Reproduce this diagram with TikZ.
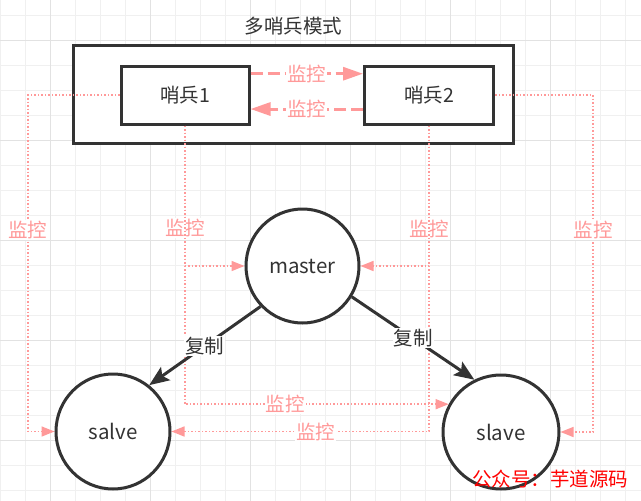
\documentclass[tikz,border=0pt]{standalone}
\usepackage{fontspec}
\setmainfont{Noto Sans CJK SC}
\usetikzlibrary{arrows.meta,shapes.geometric}
\definecolor{dk}{HTML}{333333}
\definecolor{pk}{HTML}{FF9999}
\definecolor{gmin}{HTML}{F0F0F0}
\definecolor{gmaj}{HTML}{E2E2E2}
\tikzset{
  txt/.style={font=\fontsize{19.5}{19.5}\selectfont},
  boxs/.style={draw=dk, line width=3pt, fill=white, rectangle, inner sep=0pt, txt, text=dk},
  circ/.style={draw=dk, line width=3pt, fill=white, ellipse, inner sep=0pt, font=\fontsize{20.5}{20.5}\selectfont, text=dk},
  mon/.style={draw=pk, line width=1.5pt, dash pattern=on 1.5pt off 2pt, -{Triangle[length=13pt,width=10pt]}},
  montwo/.style={draw=pk, line width=3pt, dash pattern=on 12pt off 5pt, -{Triangle[length=20pt,width=13pt]}},
  lbl/.style={fill=white, text=pk, inner sep=1pt, txt},
  cp/.style={draw=dk, line width=3pt, -{Stealth[length=20pt,width=16pt,inset=4pt]}},
  cpl/.style={fill=white, text=dk, inner sep=1pt, txt},
  gridminor/.style={draw=gmin, line width=1pt},
  gridmajor/.style={draw=gmaj, line width=1pt},
}
\begin{document}
\begin{tikzpicture}[x=1pt,y=-1pt]
\useasboundingbox (0,0) rectangle (641,501);
\fill[white] (0,0) rectangle (641,501);
% background grid
\foreach \gx in {0,25,...,625} \draw[gridminor] (\gx,0) -- (\gx,501);
\foreach \gy in {15,40,...,490} \draw[gridminor] (0,\gy) -- (641,\gy);
\foreach \gx in {50,150,...,550} \draw[gridmajor] (\gx,0) -- (\gx,501);
\foreach \gy in {40,140,...,440} \draw[gridmajor] (0,\gy) -- (641,\gy);

% nodes
\node[txt, text=dk] (title) at (293.5,26) {多哨兵模式};
\node[boxs, minimum width=440pt, minimum height=98pt] (outer) at (293,94) {};
\node[boxs, minimum width=128pt, minimum height=58pt] (s1) at (185,95) {哨兵1};
\node[boxs, minimum width=129pt, minimum height=58pt] (s2) at (429,95) {哨兵2};
\node[circ, minimum width=113pt, minimum height=114pt] (master) at (302.5,266) {master};
\node[circ, minimum width=114pt, minimum height=115pt] (salve) at (113,431.5) {salve};
\node[circ, minimum width=116pt, minimum height=114pt] (slave) at (501,432) {slave};
\coordinate (lx) at (28,0);
\coordinate (rx) at (593,0);

% dotted monitoring edges
\draw[mon] (s1.west) -| node[lbl,pos=0.70]{监控} (lx |- salve.west) -- (salve.west);
\draw[mon] (s1.south) |- node[lbl,pos=0.366]{监控} (master.west);
\draw[mon] (s1.south) |- node[lbl,pos=0.69]{监控} (slave.152);
\draw[mon] (s2.south) |- node[lbl,pos=0.37]{监控} (master.east);
\draw[mon] (s2.south) |- node[lbl,pos=0.72]{监控} (salve.east);
\draw[mon] (s2.east) -| node[lbl,pos=0.70]{监控} (rx |- slave.east) -- (slave.east);

% dashed sentinel-to-sentinel edges
\draw[montwo] (s1.18) -- node[lbl]{监控} (s1.18 -| s2.west);
\draw[montwo] (s2.192) -- node[lbl]{监控} (s2.192 -| s1.east);

% replication edges
\draw[cp] (master.224) -- node[cpl]{复制} (salve.52);
\draw[cp] (master.328) -- node[cpl]{复制} (slave.117);

% watermark
\node[txt, text=red] (wm) at (550,479) {公众号：芋道源码};
\end{tikzpicture}
\end{document}
